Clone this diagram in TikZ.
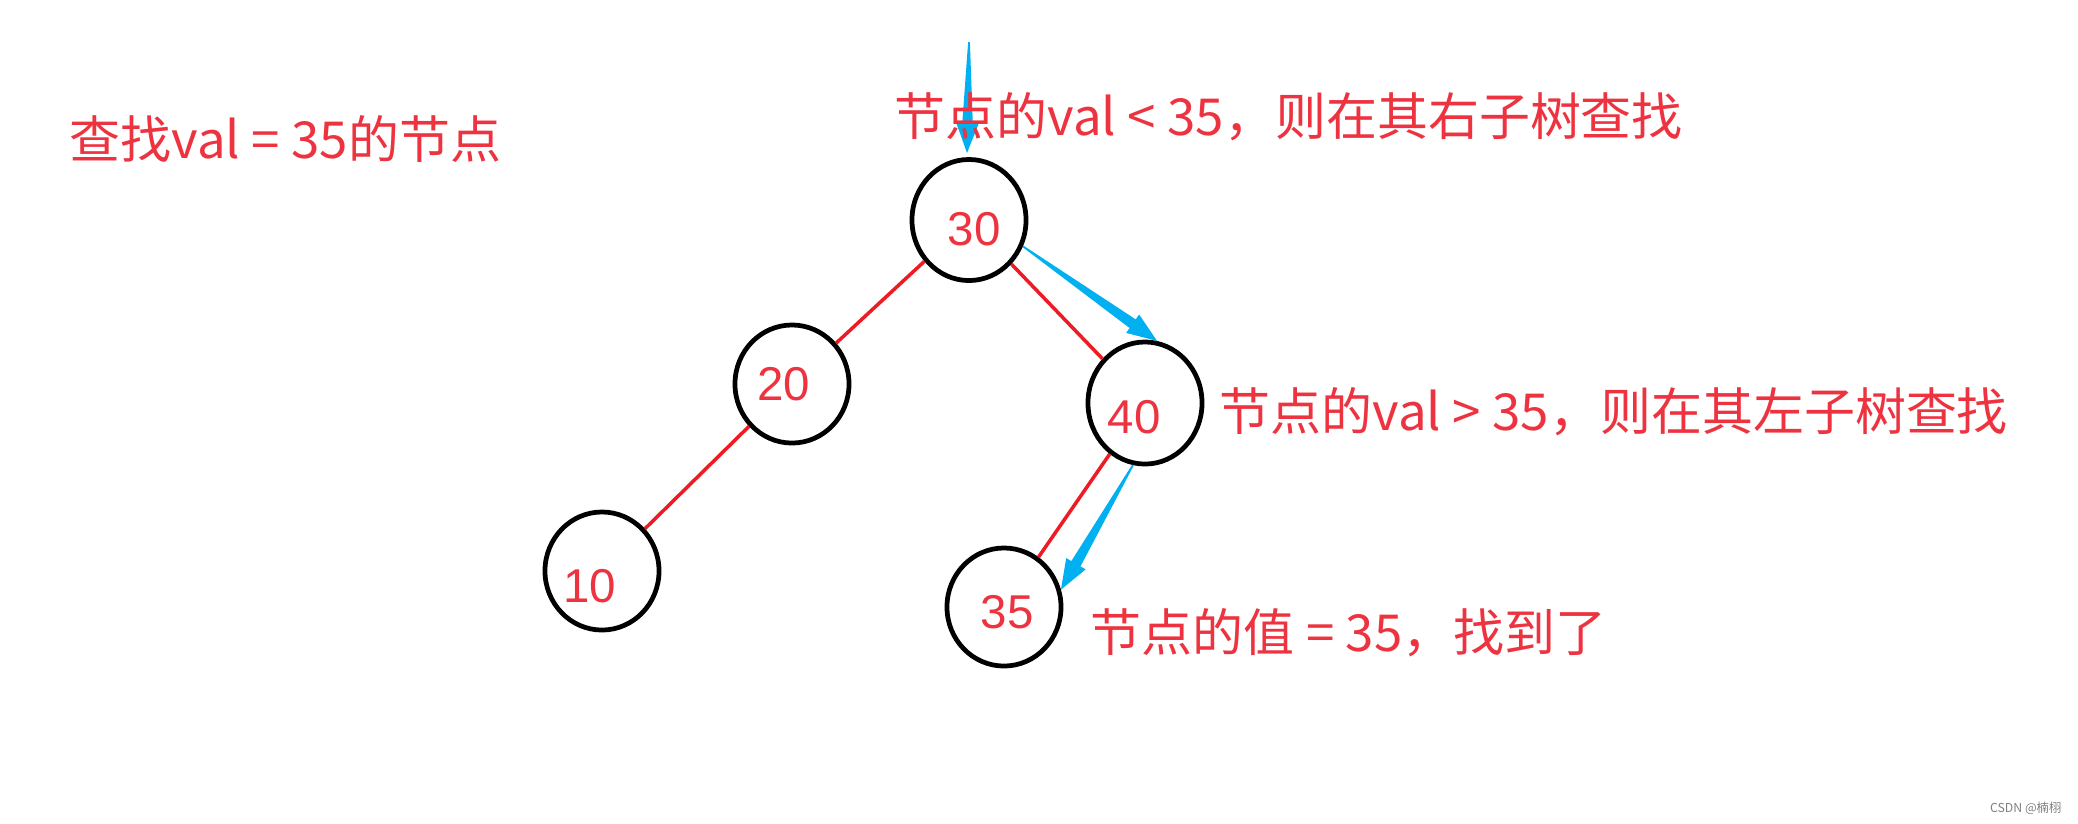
\documentclass[tikz,border=0pt]{standalone}
\usepackage{fontspec}
\setmainfont{Liberation Sans}
\newfontfamily\cjk{Noto Sans CJK SC}
\usetikzlibrary{calc}
\usetikzlibrary{shapes.geometric}
\definecolor{notered}{RGB}{238,51,64}
\definecolor{edgered}{RGB}{237,28,36}
\definecolor{findblue}{RGB}{0,176,240}

% tapered search arrow: thin at the start, wide at the tip
\newcommand{\searcharrow}[2]{%
  \coordinate (hb) at ($(#2)!8.5pt!(#1)$);
  \fill[findblue] ($(#1)!0.25pt!90:(#2)$) -- ($(hb)!1.5pt!90:(#2)$)
    -- ($(hb)!3.2pt!90:(#2)$) -- (#2) -- ($(hb)!3.2pt!-90:(#2)$)
    -- ($(hb)!1.5pt!-90:(#2)$) -- ($(#1)!0.25pt!-90:(#2)$) -- cycle;
}

\begin{document}
\begin{tikzpicture}[x=0.01cm, y=-0.01cm, line join=round,
    treenode/.style={ellipse, draw=black, line width=1.35pt, inner sep=0pt,
      minimum width=1.14cm, minimum height=1.18cm},
    numlabel/.style={text=notered, inner sep=0pt, font=\fontsize{13.5}{13.5}\selectfont},
    note/.style={text=notered, anchor=west, inner sep=0pt, font=\cjk\fontsize{14.5}{16}\selectfont},
    treeedge/.style={edgered, line width=1pt}]
  \useasboundingbox (0,0) rectangle (2078,823);

  % tree nodes
  \node[treenode, minimum height=1.21cm] (n30) at (969,220) {};
  \node[treenode] (n20) at (792,384) {};
  \node[treenode] (n10) at (602,571) {};
  \node[treenode, minimum height=1.22cm] (n40) at (1145,403) {};
  \node[treenode] (n35) at (1004,607) {};

  % values, a bit off the centres
  \node[numlabel] (l30) at (974,229) {30};
  \node[numlabel] (l20) at (784,384) {20};
  \node[numlabel] (l10) at (590,586) {10};
  \node[numlabel] (l40) at (1134,417) {40};
  \node[numlabel] (l35) at (1007,612) {35};

  % edges
  \draw[treeedge] (n30) -- (n20);
  \draw[treeedge] (n20) -- (n10);
  \draw[treeedge] (n30) -- (n40);
  \draw[treeedge] (n40) -- (n35);

  % search path
  \coordinate (start) at (969,42);
  \coordinate (enter) at (967,153);
  \searcharrow{start}{enter}
  \searcharrow{n30.-26}{n40.79}
  \searcharrow{n40.-101}{n35.17}

  % notes
  \node[note] (goal) at (69,139) {查找val = 35的节点};
  \node[note] (step1) at (894,117) {节点的val < 35，则在其右子树查找};
  \node[note] (step2) at (1219,412) {节点的val > 35，则在其左子树查找};
  \node[note] (step3) at (1090,633) {节点的值 = 35，找到了};
  \node[text=gray, anchor=east, inner sep=0pt, font=\cjk\fontsize{3.5}{4}\selectfont]
    (mark) at (2062,808) {CSDN @楠栩};
\end{tikzpicture}
\end{document}
